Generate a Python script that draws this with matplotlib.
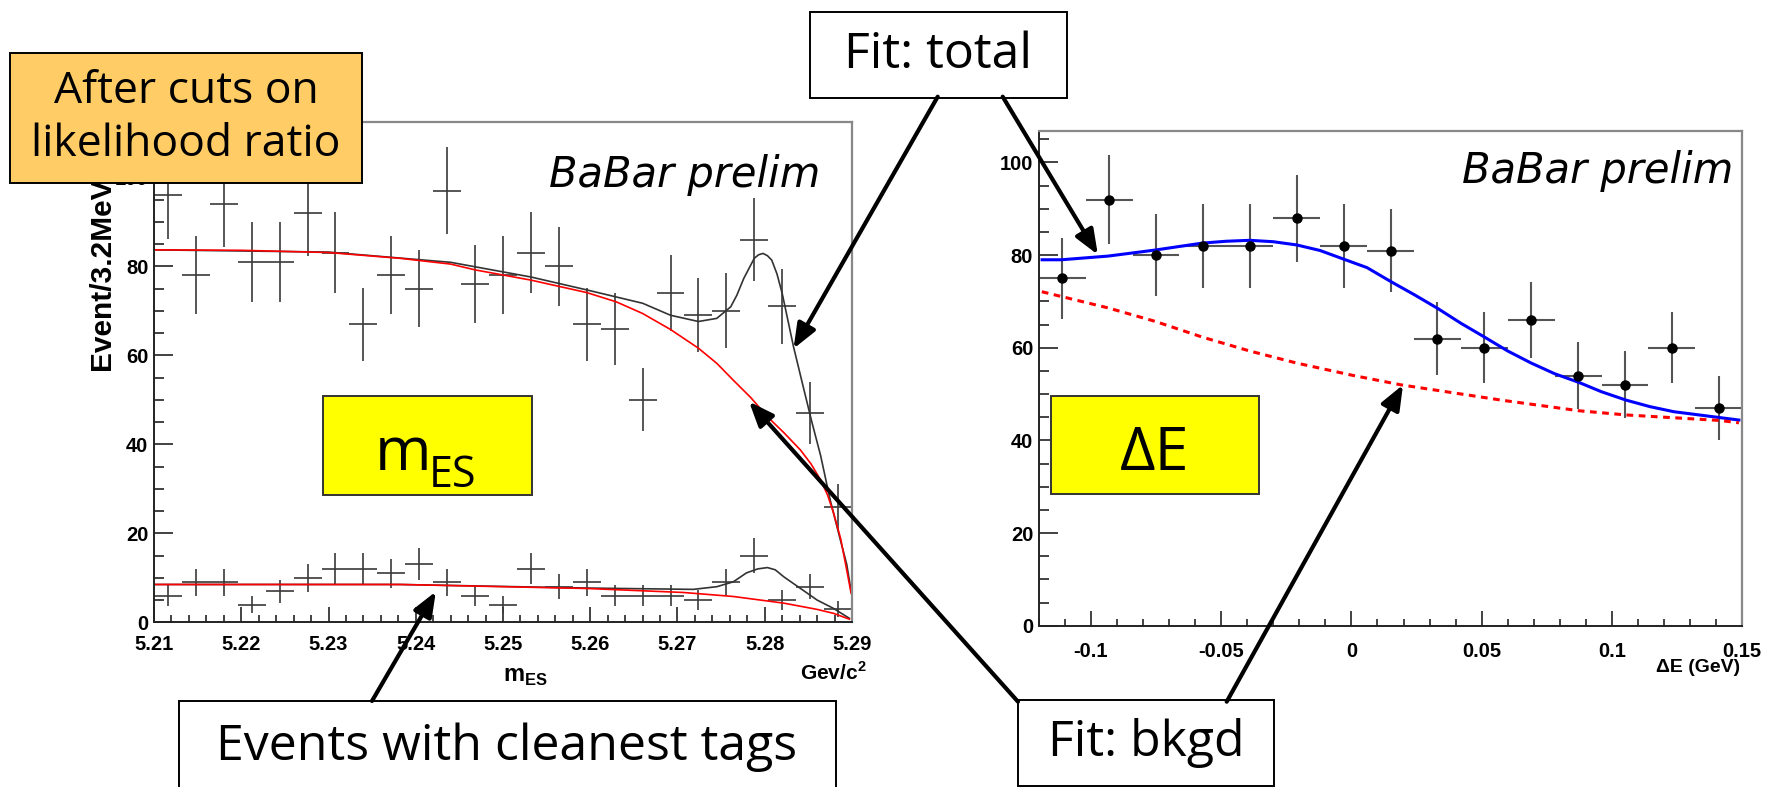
import matplotlib
matplotlib.use('Agg')
import matplotlib.pyplot as plt
from matplotlib.patches import Rectangle
from matplotlib.ticker import FixedLocator, MultipleLocator, FuncFormatter

plt.rcParams['font.family'] = ['Liberation Sans', 'DejaVu Sans']
plt.rcParams['font.weight'] = 'bold'
plt.rcParams['mathtext.fontset'] = 'custom'
plt.rcParams['mathtext.bf'] = 'Liberation Sans:bold'

# ---- m_ES histograms (bin centres, 3.2 MeV bins) ----
mes_bins = [5.2116, 5.2148, 5.2180, 5.2212, 5.2244, 5.2276, 5.2308, 5.2340, 5.2372,
            5.2404, 5.2436, 5.2468, 5.2500, 5.2532, 5.2564, 5.2596, 5.2628, 5.2660,
            5.2692, 5.2724, 5.2756, 5.2788, 5.2820, 5.2852, 5.2884]
mes_all = [96, 78, 94, 81, 81, 92, 83, 67, 78, 75, 97, 76, 78, 83, 80, 67, 66, 50,
           74, 69, 70, 86, 71, 47, 26]
mes_all_err = [9.8, 8.8, 9.7, 9.0, 9.0, 9.6, 9.1, 8.2, 8.8, 8.7, 9.8, 8.7, 8.8, 9.1,
               8.9, 8.2, 8.1, 7.1, 8.6, 8.3, 8.4, 9.3, 8.4, 6.9, 5.1]
mes_clean = [6, 9, 9, 4, 7, 10, 12, 12, 11, 13, 9, 6, 4, 12, 8, 9, 6, 6, 6, 5, 9,
             15, 5, 8, 3]
mes_clean_err = [2.4, 3.0, 3.0, 2.0, 2.6, 3.2, 3.5, 3.5, 3.3, 3.6, 3.0, 2.4, 2.0,
                 3.5, 2.8, 3.0, 2.4, 2.4, 2.4, 2.2, 3.0, 3.9, 2.2, 2.8, 1.7]

# fit curves
bkg_all_m = [5.2100, 5.2200, 5.2300, 5.2382, 5.2440, 5.2468, 5.2532, 5.2596, 5.2630,
             5.2660, 5.2692, 5.2724, 5.2745, 5.2764, 5.2784, 5.2803, 5.2822, 5.2841,
             5.2853, 5.2864, 5.2872, 5.2879, 5.2887, 5.2894, 5.2899]
bkg_all = [83.7, 83.6, 83.1, 81.8, 80.5, 79.2, 76.9, 74.1, 72.0, 69.4, 65.8, 61.6,
           58.2, 54.4, 50.5, 46.2, 42.6, 38.7, 35.6, 32.0, 28.6, 24.5, 18.8, 11.7, 6.5]
tot_all_m = [5.2100, 5.2300, 5.2440, 5.2532, 5.2596, 5.2660, 5.2692, 5.2724, 5.2745,
             5.2761, 5.2768, 5.2776, 5.2788, 5.2793, 5.2798, 5.2803, 5.2808, 5.2814,
             5.2820, 5.2833, 5.2845, 5.2854, 5.2864, 5.2875, 5.2886, 5.2894, 5.2899]
tot_all = [83.7, 83.2, 80.9, 77.6, 74.7, 71.7, 69.0, 67.6, 68.3, 70.9, 73.5, 77.3,
           81.8, 82.6, 82.9, 82.4, 81.4, 78.3, 73.9, 61.9, 52.2, 45.0, 37.5, 27.5,
           19.0, 13.0, 7.0]
bkg_clean_m = [5.2100, 5.2382, 5.2596, 5.2707, 5.2764, 5.2822, 5.2860, 5.2879, 5.2897]
bkg_clean = [8.5, 8.5, 7.6, 6.7, 5.8, 4.3, 2.9, 2.0, 0.7]
tot_clean_m = [5.2100, 5.2382, 5.2596, 5.2718, 5.2745, 5.2764, 5.2779, 5.2792, 5.2803,
               5.2812, 5.2822, 5.2841, 5.2860, 5.2879, 5.2897]
tot_clean = [8.5, 8.5, 7.7, 7.4, 8.0, 9.1, 11.1, 12.0, 12.3, 11.8, 10.2, 7.6, 5.0,
             3.1, 0.9]

# ---- Delta E histogram ----
de_bins = [-0.111, -0.093, -0.075, -0.057, -0.039, -0.021, -0.003, 0.015, 0.033,
           0.051, 0.069, 0.087, 0.105, 0.123, 0.141]
de_counts = [75, 92, 80, 82, 82, 88, 82, 81, 62, 60, 66, 54, 52, 60, 47]
de_err = [8.7, 9.6, 8.9, 9.1, 9.1, 9.4, 9.1, 9.0, 7.9, 7.7, 8.1, 7.3, 7.2, 7.7, 6.9]

de_tot_x = [-0.1187, -0.1113, -0.0933, -0.0753, -0.0572, -0.048, -0.039, -0.030,
            -0.021, -0.012, -0.0028, 0.0060, 0.0151, 0.0240, 0.0331, 0.0420, 0.0511,
            0.060, 0.069, 0.078, 0.0874, 0.096, 0.1054, 0.1145, 0.1237, 0.1487]
de_tot = [79.0, 79.0, 79.8, 81.1, 82.6, 83.0, 83.2, 82.9, 82.2, 81.0, 79.1, 77.3,
          74.3, 71.5, 68.5, 65.3, 62.3, 59.3, 56.7, 54.4, 52.5, 50.5, 48.7, 47.3,
          46.2, 44.4]
de_bkg_x = [-0.1188, -0.0933, -0.0753, -0.0572, -0.039, -0.021, 0.0, 0.019, 0.0575,
            0.0874, 0.1054, 0.1416, 0.1487]
de_bkg = [72.1, 68.6, 65.7, 62.3, 59.3, 56.7, 54.1, 52.0, 48.7, 46.4, 45.5, 44.3, 43.8]

W, H = 1766, 787
fig = plt.figure(figsize=(W / 100, H / 100), dpi=100)


def frac(x0, y0, x1, y1):
    return [x0 / W, 1 - y1 / H, (x1 - x0) / W, (y1 - y0) / H]


def root_style(ax, xpad):
    for s in ['left', 'bottom']:
        ax.spines[s].set_color('#222222')
        ax.spines[s].set_linewidth(1.4)
    for s in ['top', 'right']:
        ax.spines[s].set_color('#888888')
        ax.spines[s].set_linewidth(1.6)
    ax.tick_params(which='both', direction='in', top=False, right=False,
                   color='#222222', width=1.2, labelsize=14.5)
    ax.tick_params(axis='y', which='major', length=14, pad=4)
    ax.tick_params(axis='y', which='minor', length=7)
    ax.tick_params(axis='x', which='major', length=10.5, pad=xpad)
    ax.tick_params(axis='x', which='minor', length=5)


# left panel: m_ES
axL = fig.add_axes(frac(154, 121.7, 852, 622.3))
axL.errorbar(mes_bins, mes_all, yerr=mes_all_err, xerr=0.0016, fmt='none',
             ecolor='#3a3a3a', elinewidth=1.2)
axL.errorbar(mes_bins, mes_clean, yerr=mes_clean_err, xerr=0.0016, fmt='none',
             ecolor='#3a3a3a', elinewidth=1.2)
axL.plot(tot_all_m, tot_all, color='#333333', lw=1.2)
axL.plot(bkg_all_m, bkg_all, color='red', lw=1.2)
axL.plot(tot_clean_m, tot_clean, color='#333333', lw=1.2)
axL.plot(bkg_clean_m, bkg_clean, color='red', lw=1.2)
axL.set_xlim(5.21, 5.29)
axL.set_ylim(0, 112.5)
axL.xaxis.set_major_locator(FixedLocator([5.21, 5.22, 5.23, 5.24, 5.25, 5.26, 5.27, 5.28, 5.29]))
axL.xaxis.set_major_formatter(FuncFormatter(lambda v, p: f'{v:.2f}'))
axL.xaxis.set_minor_locator(MultipleLocator(0.002))
axL.yaxis.set_major_locator(MultipleLocator(20))
axL.yaxis.set_minor_locator(MultipleLocator(5))
root_style(axL, 9)

# right panel: Delta E
axR = fig.add_axes(frac(1038.7, 131, 1742.3, 625.7))
axR.errorbar(de_bins, de_counts, yerr=de_err, xerr=0.009, fmt='o', color='black',
             ms=6.5, ecolor='#555555', elinewidth=1.5)
axR.plot(de_tot_x, de_tot, color='#0000ff', lw=2.2)
axR.plot(de_bkg_x, de_bkg, color='#ff0000', lw=2.2, linestyle=(0, (2.2, 1.8)))
axR.set_xlim(-0.12, 0.15)
axR.set_ylim(0, 106.8)
axR.xaxis.set_major_locator(FixedLocator([-0.1, -0.05, 0.0, 0.05, 0.1, 0.15]))
axR.xaxis.set_major_formatter(FuncFormatter(lambda v, p: '0' if abs(v) < 1e-9 else f'{v:g}'))
axR.xaxis.set_minor_locator(MultipleLocator(0.01))
axR.yaxis.set_major_locator(MultipleLocator(20))
axR.yaxis.set_minor_locator(MultipleLocator(5))
root_style(axR, 12)

# overlay in pixel coordinates for the slide annotations
ov = fig.add_axes([0, 0, 1, 1], zorder=10)
ov.set_xlim(0, W)
ov.set_ylim(H, 0)
ov.axis('off')

ov.text(101.7, 370, 'Event/3.2MeV', rotation=90, ha='center', va='bottom',
        fontsize=21.5, zorder=2)
ov.text(525, 677, r'$\mathbf{m}_{\mathbf{ES}}$', ha='center', va='center', fontsize=17)
ov.text(867, 672, r'$\mathbf{Gev/c}^{\mathbf{2}}$', ha='right', va='center', fontsize=15)
ov.text(1740, 668, '\u0394E (GeV)', ha='right', va='center', fontsize=14)

for x, y in [(820.7, 187.3), (1733.3, 183.3)]:
    ov.text(x, y, 'BaBar prelim', ha='right', va='baseline', fontsize=30,
            fontfamily='DejaVu Sans', fontstyle='oblique', fontweight='normal')


def box(x0, y0, x1, y1, fc, lw=1.4, ec='black'):
    ov.add_patch(Rectangle((x0, y0), x1 - x0, y1 - y0, facecolor=fc, edgecolor=ec,
                           lw=lw, zorder=5))


def label(x, y, s, size, va='center', ha='center'):
    ov.text(x, y, s, ha=ha, va=va, fontsize=size, fontfamily='Open Sans',
            fontweight='normal', linespacing=1.25, zorder=6)


box(10, 53, 362, 183.3, '#ffcc66')
label(186, 118, 'After cuts on\nlikelihood ratio', 32)
box(810, 12.3, 1066.7, 97.7, 'white')
label(938, 55, 'Fit: total', 36)
box(1018, 700, 1274, 785.7, 'white')
label(1146, 743, 'Fit: bkgd', 36)
box(179, 701, 836, 795, 'white')
label(507, 747, 'Events with cleanest tags', 36)
box(322.7, 395.7, 531.7, 495, '#ffff00', ec='#333333')
label(375, 470, 'm', 44, va='baseline', ha='left')
label(429, 486.7, 'ES', 31, va='baseline', ha='left')
box(1050.7, 395.7, 1258.7, 494, '#ffff00', ec='#333333')
label(1154.7, 470, '\u0394E', 44, va='baseline')

arrow = dict(arrowstyle='-|>,head_length=0.75,head_width=0.3', color='black', lw=3,
             shrinkA=0, shrinkB=0, mutation_scale=20)
ov.annotate('', xy=(5.2833, 61.5), xycoords=axL.transData, xytext=(937.7, 96.7),
            textcoords=ov.transData, arrowprops=arrow, zorder=7)
ov.annotate('', xy=(-0.0973, 80.1), xycoords=axR.transData, xytext=(1002.7, 96.7),
            textcoords=ov.transData, arrowprops=arrow, zorder=7)
ov.annotate('', xy=(5.2782, 49.6), xycoords=axL.transData, xytext=(1018, 701.7),
            textcoords=ov.transData, arrowprops=arrow, zorder=7)
ov.annotate('', xy=(0.0198, 52.0), xycoords=axR.transData, xytext=(1226.7, 701.7),
            textcoords=ov.transData, arrowprops=arrow, zorder=7)
ov.annotate('', xy=(5.2423, 6.9), xycoords=axL.transData, xytext=(372, 701),
            textcoords=ov.transData, arrowprops=arrow, zorder=7)

fig.savefig('out.png', dpi=100)
